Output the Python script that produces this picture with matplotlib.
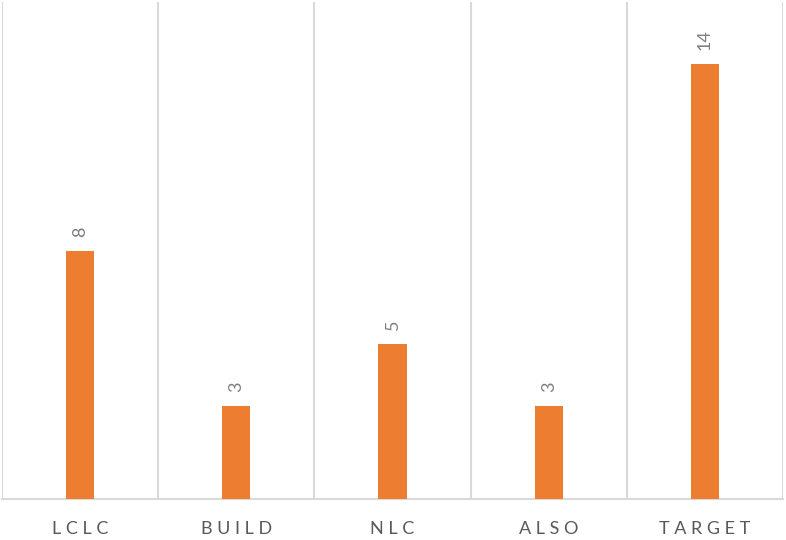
import numpy as np
import matplotlib.pyplot as plt

categories = ["LCLC", "BUILD", "NLC", "ALSO", "TARGET"]
values = [8, 3, 5, 3, 14]

plt.rcParams['font.family'] = ['Lato', 'DejaVu Sans']

fig = plt.figure(figsize=(7.86, 5.40), dpi=100)
ax = fig.add_axes([2 / 786, 41 / 540, 781 / 786, 497 / 540])

x = np.arange(len(categories))
bars = ax.bar(x, values, width=0.18, color="#ED7D31", zorder=3)

ax.set_xlim(-0.5, len(categories) - 0.5)
ax.set_ylim(0, 16)

# vertical separators between categories
for b in np.arange(-0.5, len(categories), 1.0):
    ax.axvline(b, color="#D9D9D9", lw=1.5, zorder=1)

for s in ["top", "right", "left"]:
    ax.spines[s].set_visible(False)
ax.spines["bottom"].set_color("#D9D9D9")
ax.spines["bottom"].set_linewidth(1.5)

ax.set_yticks([])
ax.set_xticks(x)
spaced = [" ".join(list(c)) for c in categories]
ax.set_xticklabels(spaced, fontsize=13, color="#595959")
ax.tick_params(axis="x", length=0, pad=16)

for rect, v in zip(bars, values):
    ax.annotate(str(v), (rect.get_x() + rect.get_width() / 2, v),
                xytext=(0, 10), textcoords="offset points",
                ha="center", va="bottom", rotation=90,
                fontsize=13, color="#7F7F7F")

fig.savefig("out.png", dpi=100)
